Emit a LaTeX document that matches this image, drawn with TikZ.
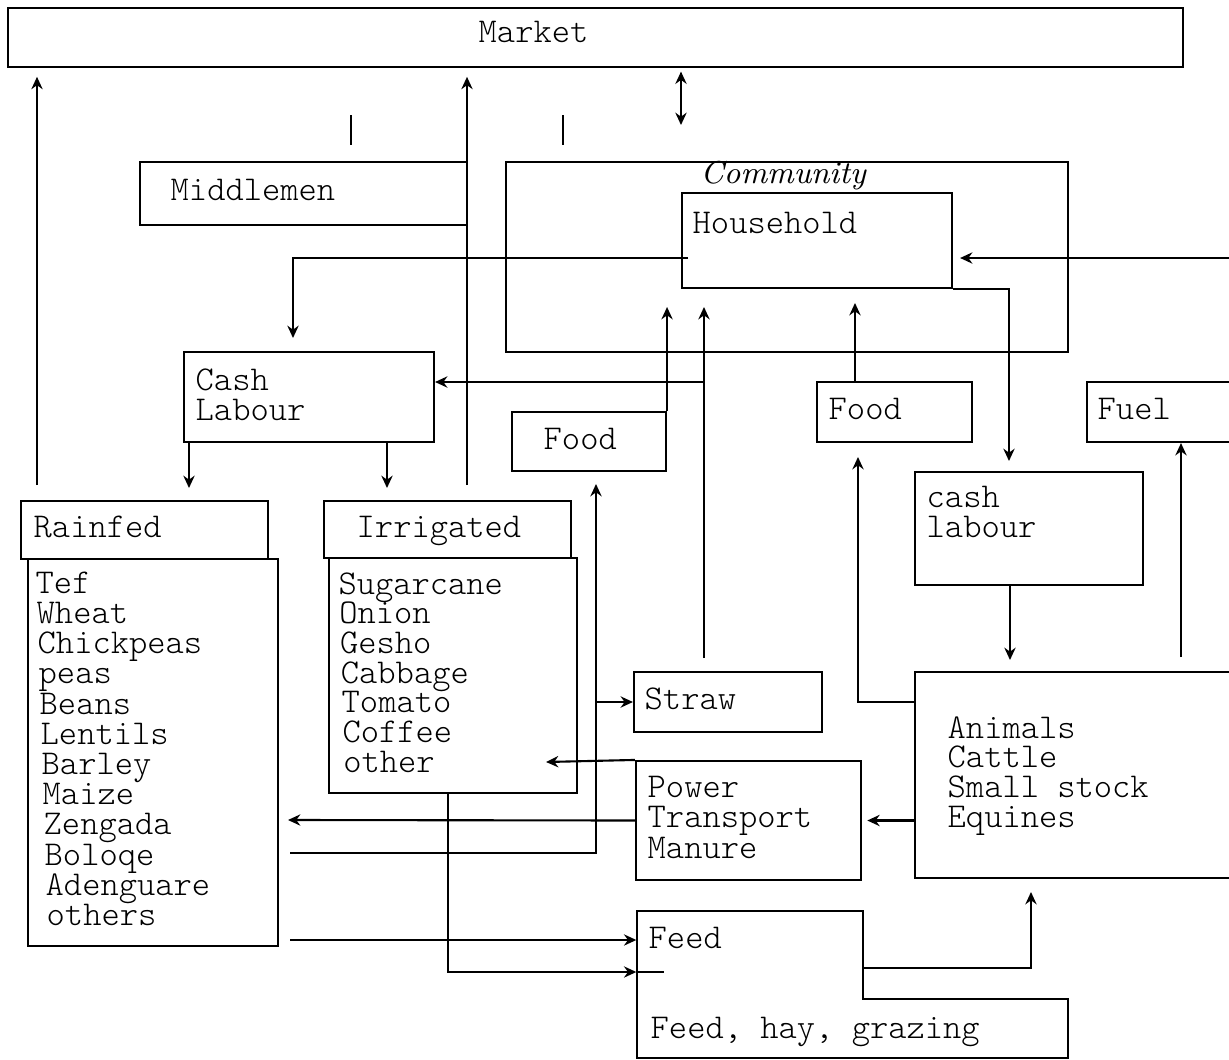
\documentclass[tikz,border=0pt]{standalone}
\usepackage{fontspec}
\newfontfamily\courier{lmmonolt10-regular.otf}
\usetikzlibrary{arrows.meta,fit}

\tikzset{
  box/.style={draw,line width=0.6pt,inner sep=0pt},
  txt/.style={font=\courier\fontsize{9.9}{11}\selectfont,inner sep=0pt,anchor=base west},
  ln/.style={line width=0.6pt},
  arr/.style={line width=0.6pt,-{Stealth[length=3.5pt,width=3.2pt]}},
  darr/.style={line width=0.6pt,{Stealth[length=3.5pt,width=3.2pt]}-{Stealth[length=3.5pt,width=3.2pt]}},
}

\begin{document}
\begin{tikzpicture}[x=0.01cm,y=-0.01cm]
\useasboundingbox (0,0) rectangle (1229,1060);
\clip (0,0) rectangle (1229,1060);

% boxes
\node[box,fit={(8,8) (1183,67)}] (market) {};
\node[box,fit={(140,162) (467,225)}] (middlemen) {};
\node[box,fit={(506,162) (1068,352)}] (community) {};
\node[box,fit={(682,193) (952,288)}] (household) {};
\node[box,fit={(184,352) (434,442)}] (cashl) {};
\node[box,fit={(512,412) (666,471)}] (foodl) {};
\node[box,fit={(817,382) (972,442)}] (foodc) {};
\node[box,fit={(1087,382) (1260,442)}] (fuel) {};
\node[box,fit={(915,472) (1143,585)}] (cashr) {};
\node[box,fit={(21,501) (268,559)}] (rainhead) {};
\node[box,fit={(28,559) (278,946)}] (rainbody) {};
\node[box,fit={(324,501) (571,558)}] (irrhead) {};
\node[box,fit={(329,558) (577,793)}] (irrbody) {};
\node[box,fit={(634,672) (822,732)}] (straw) {};
\node[box,fit={(636,761) (861,880)}] (ptm) {};
\node[box,fit={(915,672) (1260,878)}] (animals) {};
\node[inner sep=0pt,fit={(637,911) (863,1058)}] (feed) {};
\draw[ln] (637,911) -- (863,911) -- (863,999) -- (1068,999) -- (1068,1058) -- (637,1058) -- cycle;

% texts
\node[txt] (markettxt) at (478,42) {Market};
\node[txt] (middlementxt) at (170,200) {Middlemen};
\node[font=\itshape\fontsize{9}{11}\selectfont,inner sep=0pt,anchor=base west] (communitytxt) at (700,183) {Community};
\node[txt] (householdtxt) at (692,233) {Household};
\node[txt] (cashtxt) at (195,390) {Cash};
\node[txt] (labourtxt) at (195,420) {Labour};
\node[txt] (foodltxt) at (543,449) {Food};
\node[txt] (foodctxt) at (828,419) {Food};
\node[txt] (fueltxt) at (1097,419) {Fuel};
\node[txt] (cashrtxt) at (926,507) {cash};
\node[txt] (labourrtxt) at (926,537) {labour};
\node[txt] (rainfedtxt) at (33,537) {Rainfed};
\node[txt] (irrigatedtxt) at (356,537) {Irrigated};
\foreach \crop [count=\i] in {Tef,Wheat,Chickpeas,peas,Beans,Lentils,Barley,Maize,Zengada,Boloqe,Adenguare,others}
  \node[txt] (rain\i) at (34+\i,563+30.2*\i) {\crop};
\foreach \crop [count=\i] in {Sugarcane,Onion,Gesho,Cabbage,Tomato,Coffee,other}
  \node[txt] (irr\i) at (337+0.8*\i,564.3+29.7*\i) {\crop};
\node[txt] (strawtxt) at (644,709) {Straw};
\foreach \an [count=\i] in {Animals,Cattle,Small stock,Equines}
  \node[txt] (animal\i) at (947,708.3+29.7*\i) {\an};
\foreach \use [count=\i] in {Power,Transport,Manure}
  \node[txt] (ptm\i) at (647,766.5+30.5*\i) {\use};
\node[txt] (feedtxt) at (648,948) {Feed};
\node[txt] (grazingtxt) at (650,1038) {Feed, hay, grazing};

% connectors
\coordinate (rfmk) at (37,485);
\coordinate (irmk) at (467,485);
\coordinate (cmmk) at (681,125);
\draw[arr,shorten >=2.5pt] (rfmk) -- (rfmk |- market.south);
\draw[arr,shorten >=2.5pt] (irmk) -- (irmk |- market.south);
\draw[darr,shorten <=1pt] (cmmk |- market.south) -- (cmmk);
\draw[ln] (351,115) -- (351,145);
\draw[ln] (563,115) -- (563,145);

\coordinate (hhcl) at (688,258);
\coordinate (clin) at (293,338);
\draw[arr] (hhcl) -| (clin);
\coordinate (rtin) at (1229,258);
\draw[arr,shorten >=2pt] (rtin) -- (rtin -| household.east);
\coordinate (hhcr) at (1009,461);
\draw[arr] (household.south east) -| (hhcr);

\coordinate (hhin) at (664,307);
\draw[arr] (foodl.north east) -- (foodl.north east |- hhin);
\coordinate (stup) at (704,658);
\draw[arr] (stup) -- (stup |- hhin);
\coordinate (stcl) at (704,382);
\draw[arr] (stcl) -- (stcl -| cashl.east);
\coordinate (fchh) at (855,303);
\draw[arr] (fchh |- foodc.north) -- (fchh);

\coordinate (anw) at (915,702);
\coordinate (anfd) at (858,457);
\draw[arr] (anw) -| (anfd);
\coordinate (anfu) at (1181,657);
\draw[arr] (anfu) -- (anfu |- fuel.south);
\coordinate (cran) at (1010,660);
\draw[arr] (cran |- cashr.south) -- (cran);

\coordinate (clrf) at (189,488);
\coordinate (clir) at (387,488);
\draw[arr] (clrf |- cashl.south) -- (clrf);
\draw[arr] (clir |- cashl.south) -- (clir);

\coordinate (rffd) at (290,853);
\coordinate (fdin) at (596,484);
\draw[arr] (rffd) -| (fdin);
\draw[arr] (fdin |- straw.west) -- (straw.west);

\coordinate (ptir) at (546,762);
\draw[arr] (ptm.north west) -- (ptir);
\coordinate (ptrf) at (288,820);
\draw[arr] (ptm.west) -- (ptrf);
\draw[arr,shorten >=1.5pt] (animals.west |- ptm.east) -- (ptm.east);

\coordinate (rffe) at (290,940);
\draw[arr] (rffe) -- (rffe -| feed.west);
\coordinate (irfe) at (448,972);
\draw[arr] (irfe |- irrbody.south) |- (feed.west |- irfe);
\draw[ln] (feed.west |- irfe) -- ++(28,0);
\coordinate (fee) at (863,968);
\coordinate (fean) at (1031,892);
\draw[arr] (fee) -| (fean);
\end{tikzpicture}
\end{document}
